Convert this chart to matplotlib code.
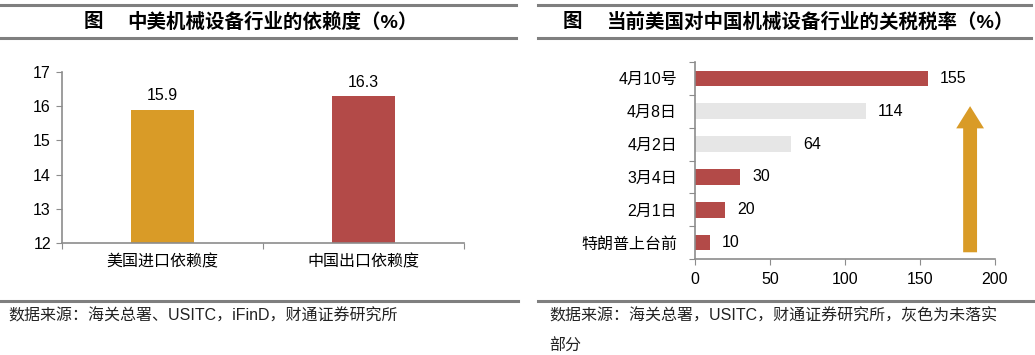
import matplotlib
matplotlib.use("Agg")
import matplotlib.pyplot as plt
from matplotlib.lines import Line2D

plt.rcParams['font.family'] = ['Liberation Sans', 'Noto Sans CJK SC', 'DejaVu Sans']

# Left chart data
dep_labels = ["美国进口依赖度", "中国出口依赖度"]
dep_values = [15.9, 16.3]
dep_colors = ["#D99B27", "#B34A48"]

# Right chart data (bottom to top)
tariff_labels = ["特朗普上台前", "2月1日", "3月4日", "4月2日", "4月8日", "4月10号"]
tariff_values = [10, 20, 30, 64, 114, 155]
tariff_grey = [False, False, False, True, True, False]

red = "#B34A48"
grey_bar = "#E6E6E6"
gold = "#D99B27"
spine_c = "#8C8C8C"
line_c = "#7F7F7F"

fig = plt.figure(figsize=(10.35, 3.55), dpi=100)
W, H = 1035.0, 355.0

def px(x0, y0, x1, y1):
    # pixel box (top-left origin) -> figure fraction rect
    return [x0 / W, 1 - y1 / H, (x1 - x0) / W, (y1 - y0) / H]

def hline(x0, x1, y):
    fig.add_artist(Line2D([x0 / W, x1 / W], [1 - y / H, 1 - y / H],
                          color=line_c, lw=2.2, transform=fig.transFigure))

# header / footer rules
hline(0, 516, 5)
hline(0, 516, 38)
hline(0, 518, 301)
hline(538, 1031, 5)
hline(538, 1031, 38)
hline(538, 1035, 301)

# titles
fig.text(93 / W, 1 - 22 / H, "图", fontsize=14, fontweight="bold", ha="center", va="center")
fig.text(127 / W, 1 - 22 / H, "中美机械设备行业的依赖度（%）", fontsize=14, fontweight="bold",
         ha="left", va="center")
fig.text(572 / W, 1 - 22 / H, "图", fontsize=14, fontweight="bold", ha="center", va="center")
fig.text(607 / W, 1 - 22 / H, "当前美国对中国机械设备行业的关税税率（%）", fontsize=14, fontweight="bold",
         ha="left", va="center")

# sources
fig.text(8 / W, 1 - 316 / H, "数据来源：海关总署、USITC，iFinD，财通证券研究所", fontsize=11.5,
         ha="left", va="center", color="#222222")
fig.text(549 / W, 1 - 316 / H, "数据来源：海关总署，USITC，财通证券研究所，灰色为未落实", fontsize=11.5,
         ha="left", va="center", color="#222222")
fig.text(549 / W, 1 - 346 / H, "部分", fontsize=11.5, ha="left", va="center", color="#222222")

# ---------------- left chart ----------------
ax1 = fig.add_axes(px(62, 72, 464, 243))
x = range(len(dep_labels))
ax1.bar(x, dep_values, width=0.31, color=dep_colors)
for i, v in enumerate(dep_values):
    ax1.text(i, v + 0.18, "{:.1f}".format(v), ha="center", va="bottom", fontsize=11.5)
ax1.set_ylim(12, 17)
ax1.set_xlim(-0.5, 1.5)
ax1.set_yticks(range(12, 18))
ax1.set_xticks([-0.5, 0.5, 1.5])
ax1.set_xticklabels([])
ax1.set_xticks(list(x), minor=True)
ax1.set_xticklabels(dep_labels, minor=True, fontsize=11.5)
ax1.tick_params(axis="x", which="minor", length=0, pad=8)
ax1.tick_params(axis="x", which="major", length=4, color=spine_c, direction="out")
ax1.tick_params(axis="y", length=4, color=spine_c, labelsize=11.5, pad=4)
for s in ["top", "right"]:
    ax1.spines[s].set_visible(False)
for s in ["left", "bottom"]:
    ax1.spines[s].set_color(spine_c)
    ax1.spines[s].set_linewidth(1.2)

# ---------------- right chart ----------------
ax2 = fig.add_axes(px(695, 62, 995, 259))
y = range(len(tariff_labels))
cols = [grey_bar if g else red for g in tariff_grey]
ax2.barh(y, tariff_values, height=0.48, color=cols)
for i, v in enumerate(tariff_values):
    ax2.text(v + 8, i, str(v), ha="left", va="center", fontsize=11.5)
ax2.set_xlim(0, 200)
ax2.set_ylim(-0.5, len(tariff_labels) - 0.5)
ax2.set_xticks([0, 50, 100, 150, 200])
ax2.set_yticks([i - 0.5 for i in range(len(tariff_labels) + 1)])
ax2.set_yticklabels([])
ax2.set_yticks(list(y), minor=True)
ax2.set_yticklabels(tariff_labels, minor=True, fontsize=11.5)
ax2.tick_params(axis="y", which="minor", length=0, pad=13)
ax2.tick_params(axis="y", which="major", length=4, color=spine_c)
ax2.tick_params(axis="x", length=4, color=spine_c, labelsize=11.5, pad=5)
for s in ["top", "right"]:
    ax2.spines[s].set_visible(False)
for s in ["left", "bottom"]:
    ax2.spines[s].set_color(spine_c)
    ax2.spines[s].set_linewidth(1.2)

# rising arrow
ax2.annotate("", xy=(0.917, 0.79), xytext=(0.917, 0.02), xycoords="axes fraction",
             arrowprops=dict(arrowstyle="simple,head_length=1.6,head_width=2.0,tail_width=1.0",
                             mutation_scale=10, color=gold, lw=0))

fig.savefig("out.png", dpi=100)
